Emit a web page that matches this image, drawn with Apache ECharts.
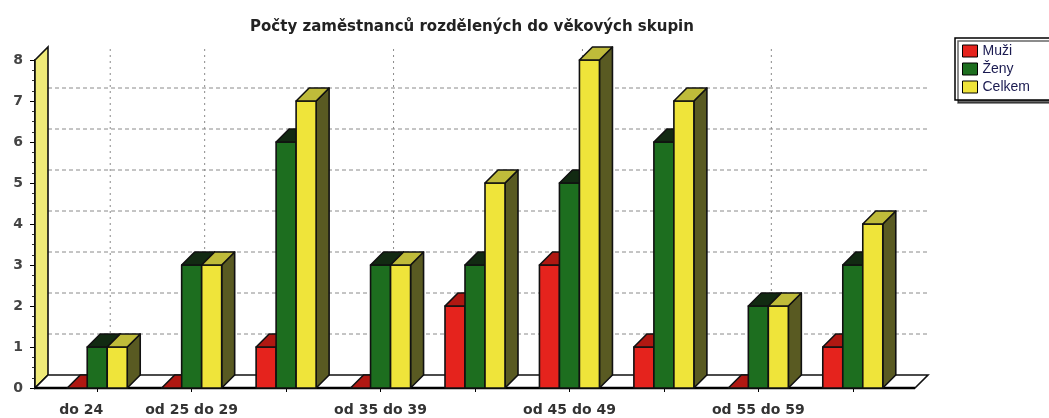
<!DOCTYPE html>
<html><head><meta charset="utf-8">
<script src="https://cdn.jsdelivr.net/npm/echarts@6/dist/echarts.min.js"></script>
<style>html,body{margin:0;padding:0;background:#fff}#c{width:1049px;height:418px}</style>
</head><body><div id="c"></div>
<script>
const categories = ['do 24','od 25 do 29','od 30 do 34','od 35 do 39','od 40 do 44','od 45 do 49','od 50 do 54','od 55 do 59','od 60'];
const shownLabels = [0,1,3,5,7];
const yTicks = [0,1,2,3,4,5,6,7,8];
const muzi   = [0,0,1,0,2,3,1,0,1];
const zeny   = [1,3,6,3,3,5,6,2,3];
const celkem = [1,3,7,3,5,8,7,2,4];
const seriesNames = ['Muži','Ženy','Celkem'];

const DX = 13, DY = 13, BAR_W = 20, EXT = 15;
const FONT = 'DejaVu Sans';

const chart = echarts.init(document.getElementById('c'), null, {renderer:'canvas'});

function frameItem(params, api){
  const n = categories.length;
  const yMin = yTicks[0], yMax = yTicks[yTicks.length-1];
  const band = api.size([1,0])[0];
  const p0 = api.coord([0, yMin]);
  const pTop = api.coord([0, yMax]);
  const pn = api.coord([n-1, yMin]);
  const xl = p0[0] - band/2 - EXT, xr = pn[0] + band/2 + EXT;
  const yb = p0[1], yt = pTop[1];
  const children = [];
  yTicks.forEach(t => {
    if (t > yMin && t < yMax) {
      const y = api.coord([0, t])[1] - DY;
      children.push({type:'line', shape:{x1:xl+DX, y1:y, x2:xr+DX, y2:y},
        style:{stroke:'#8a8a8a', lineWidth:1, lineDash:[4,3]}});
    }
  });
  shownLabels.forEach(i => {
    const x = api.coord([i, yMin])[0] + DX;
    children.push({type:'line', shape:{x1:x, y1:yb-DY, x2:x, y2:yt-DY},
      style:{stroke:'#8a8a8a', lineWidth:1, lineDash:[2,4]}});
  });
  children.push({type:'polygon', shape:{points:[[xl,yb],[xl,yt],[xl+DX,yt-DY],[xl+DX,yb-DY]]},
    style:{fill:'#efea78', stroke:'#111', lineWidth:1.6}});
  children.push({type:'polygon', shape:{points:[[xl,yb],[xr,yb],[xr+DX,yb-DY],[xl+DX,yb-DY]]},
    style:{fill:'#fff', stroke:'#111', lineWidth:1.6}});
  children.push({type:'line', shape:{x1:xl, y1:yb, x2:xr, y2:yb}, style:{stroke:'#000', lineWidth:2.5}});
  return {type:'group', children};
}

function bar3d(k, front, top, side){
  return function(params, api){
    const ci = api.value(0), v = api.value(1);
    const pt = api.coord([ci, v]), pb = api.coord([ci, 0]);
    const x0 = pt[0] + k*BAR_W - BAR_W/2, x1 = x0 + BAR_W;
    const yt = pt[1], yb = pb[1];
    const st = {stroke:'#111', lineWidth:1.6, lineJoin:'round'};
    const ch = [];
    if (yb - yt > 0.5) {
      ch.push({type:'polygon', shape:{points:[[x1,yt],[x1+DX,yt-DY],[x1+DX,yb-DY],[x1,yb]]}, style:Object.assign({fill:side}, st)});
      ch.push({type:'rect', shape:{x:x0, y:yt, width:BAR_W, height:yb-yt}, style:Object.assign({fill:front}, st)});
    }
    ch.push({type:'polygon', shape:{points:[[x0,yt],[x1,yt],[x1+DX,yt-DY],[x0+DX,yt-DY]]}, style:Object.assign({fill:top}, st)});
    return {type:'group', children:ch};
  };
}

const toData = arr => arr.map((v,i) => [i, v]);

chart.setOption({
  animation: false,
  backgroundColor: '#fff',
  title: {
    text: 'Počty zaměstnanců rozdělených do věkových skupin',
    left: 467, top: 15, textAlign: 'center',
    textStyle: {fontFamily: FONT, fontWeight: 'bold', fontSize: 15, color: '#222'}
  },
  legend: {
    data: seriesNames,
    orient: 'vertical',
    left: 955, top: 38,
    padding: [6, 30, 6, 7],
    itemGap: 4,
    itemWidth: 15, itemHeight: 12,
    icon: 'rect',
    itemStyle: {borderColor: '#000', borderWidth: 1},
    backgroundColor: '#fff',
    borderColor: '#000', borderWidth: 1.5,
    shadowColor: 'rgba(0,0,0,0.6)', shadowOffsetX: 3, shadowOffsetY: 3, shadowBlur: 0,
    textStyle: {fontFamily: 'Liberation Sans', fontSize: 14, lineHeight: 14, color: '#1a1a50'}
  },
  grid: {left: 50, right: 149, top: 60, bottom: 30, containLabel: false},
  xAxis: {
    type: 'category',
    data: categories,
    boundaryGap: true,
    axisLine: {show: false},
    axisTick: {show: true, alignWithLabel: true, interval: 0, length: 4, lineStyle: {color: '#000'}},
    axisLabel: {
      interval: (idx) => shownLabels.includes(idx),
      margin: 15,
      fontFamily: FONT, fontWeight: 'bold', fontSize: 14, color: '#333',
      formatter: (val, idx) => idx === 0 ? '{s|' + val + '}' : val,
      rich: {s: {padding: [0, 32, 0, 0], fontFamily: FONT, fontWeight: 'bold', fontSize: 14, color: '#333'}}
    },
    splitLine: {show: false}
  },
  yAxis: {
    type: 'value',
    min: yTicks[0], max: yTicks[yTicks.length-1], interval: 1,
    offset: 15,
    axisLine: {show: true, lineStyle: {color: '#000', width: 2}},
    axisTick: {show: true, length: 5, lineStyle: {color: '#000'}},
    minorTick: {show: true, splitNumber: 4, length: 3, lineStyle: {color: '#333'}},
    axisLabel: {margin: 12, fontFamily: FONT, fontWeight: 'bold', fontSize: 14, color: '#444'},
    splitLine: {show: false}
  },
  series: [
    {type: 'custom', name: '_frame', coordinateSystem: 'cartesian2d', renderItem: frameItem,
     data: [[0, 0]], encode: {x: 0, y: 1}, silent: true},
    {type: 'custom', name: seriesNames[0], coordinateSystem: 'cartesian2d',
     renderItem: bar3d(-1, '#e5231d', '#b01812', '#7a100c'),
     itemStyle: {color: '#e5231d'}, data: toData(muzi), encode: {x: 0, y: 1}},
    {type: 'custom', name: seriesNames[1], coordinateSystem: 'cartesian2d',
     renderItem: bar3d(0, '#1d6e1f', '#122a12', '#0c3a0d'),
     itemStyle: {color: '#1d6e1f'}, data: toData(zeny), encode: {x: 0, y: 1}},
    {type: 'custom', name: seriesNames[2], coordinateSystem: 'cartesian2d',
     renderItem: bar3d(1, '#efe43a', '#bfbb3a', '#595a22'),
     itemStyle: {color: '#efe43a'}, data: toData(celkem), encode: {x: 0, y: 1}}
  ]
});
</script>
</body></html>
